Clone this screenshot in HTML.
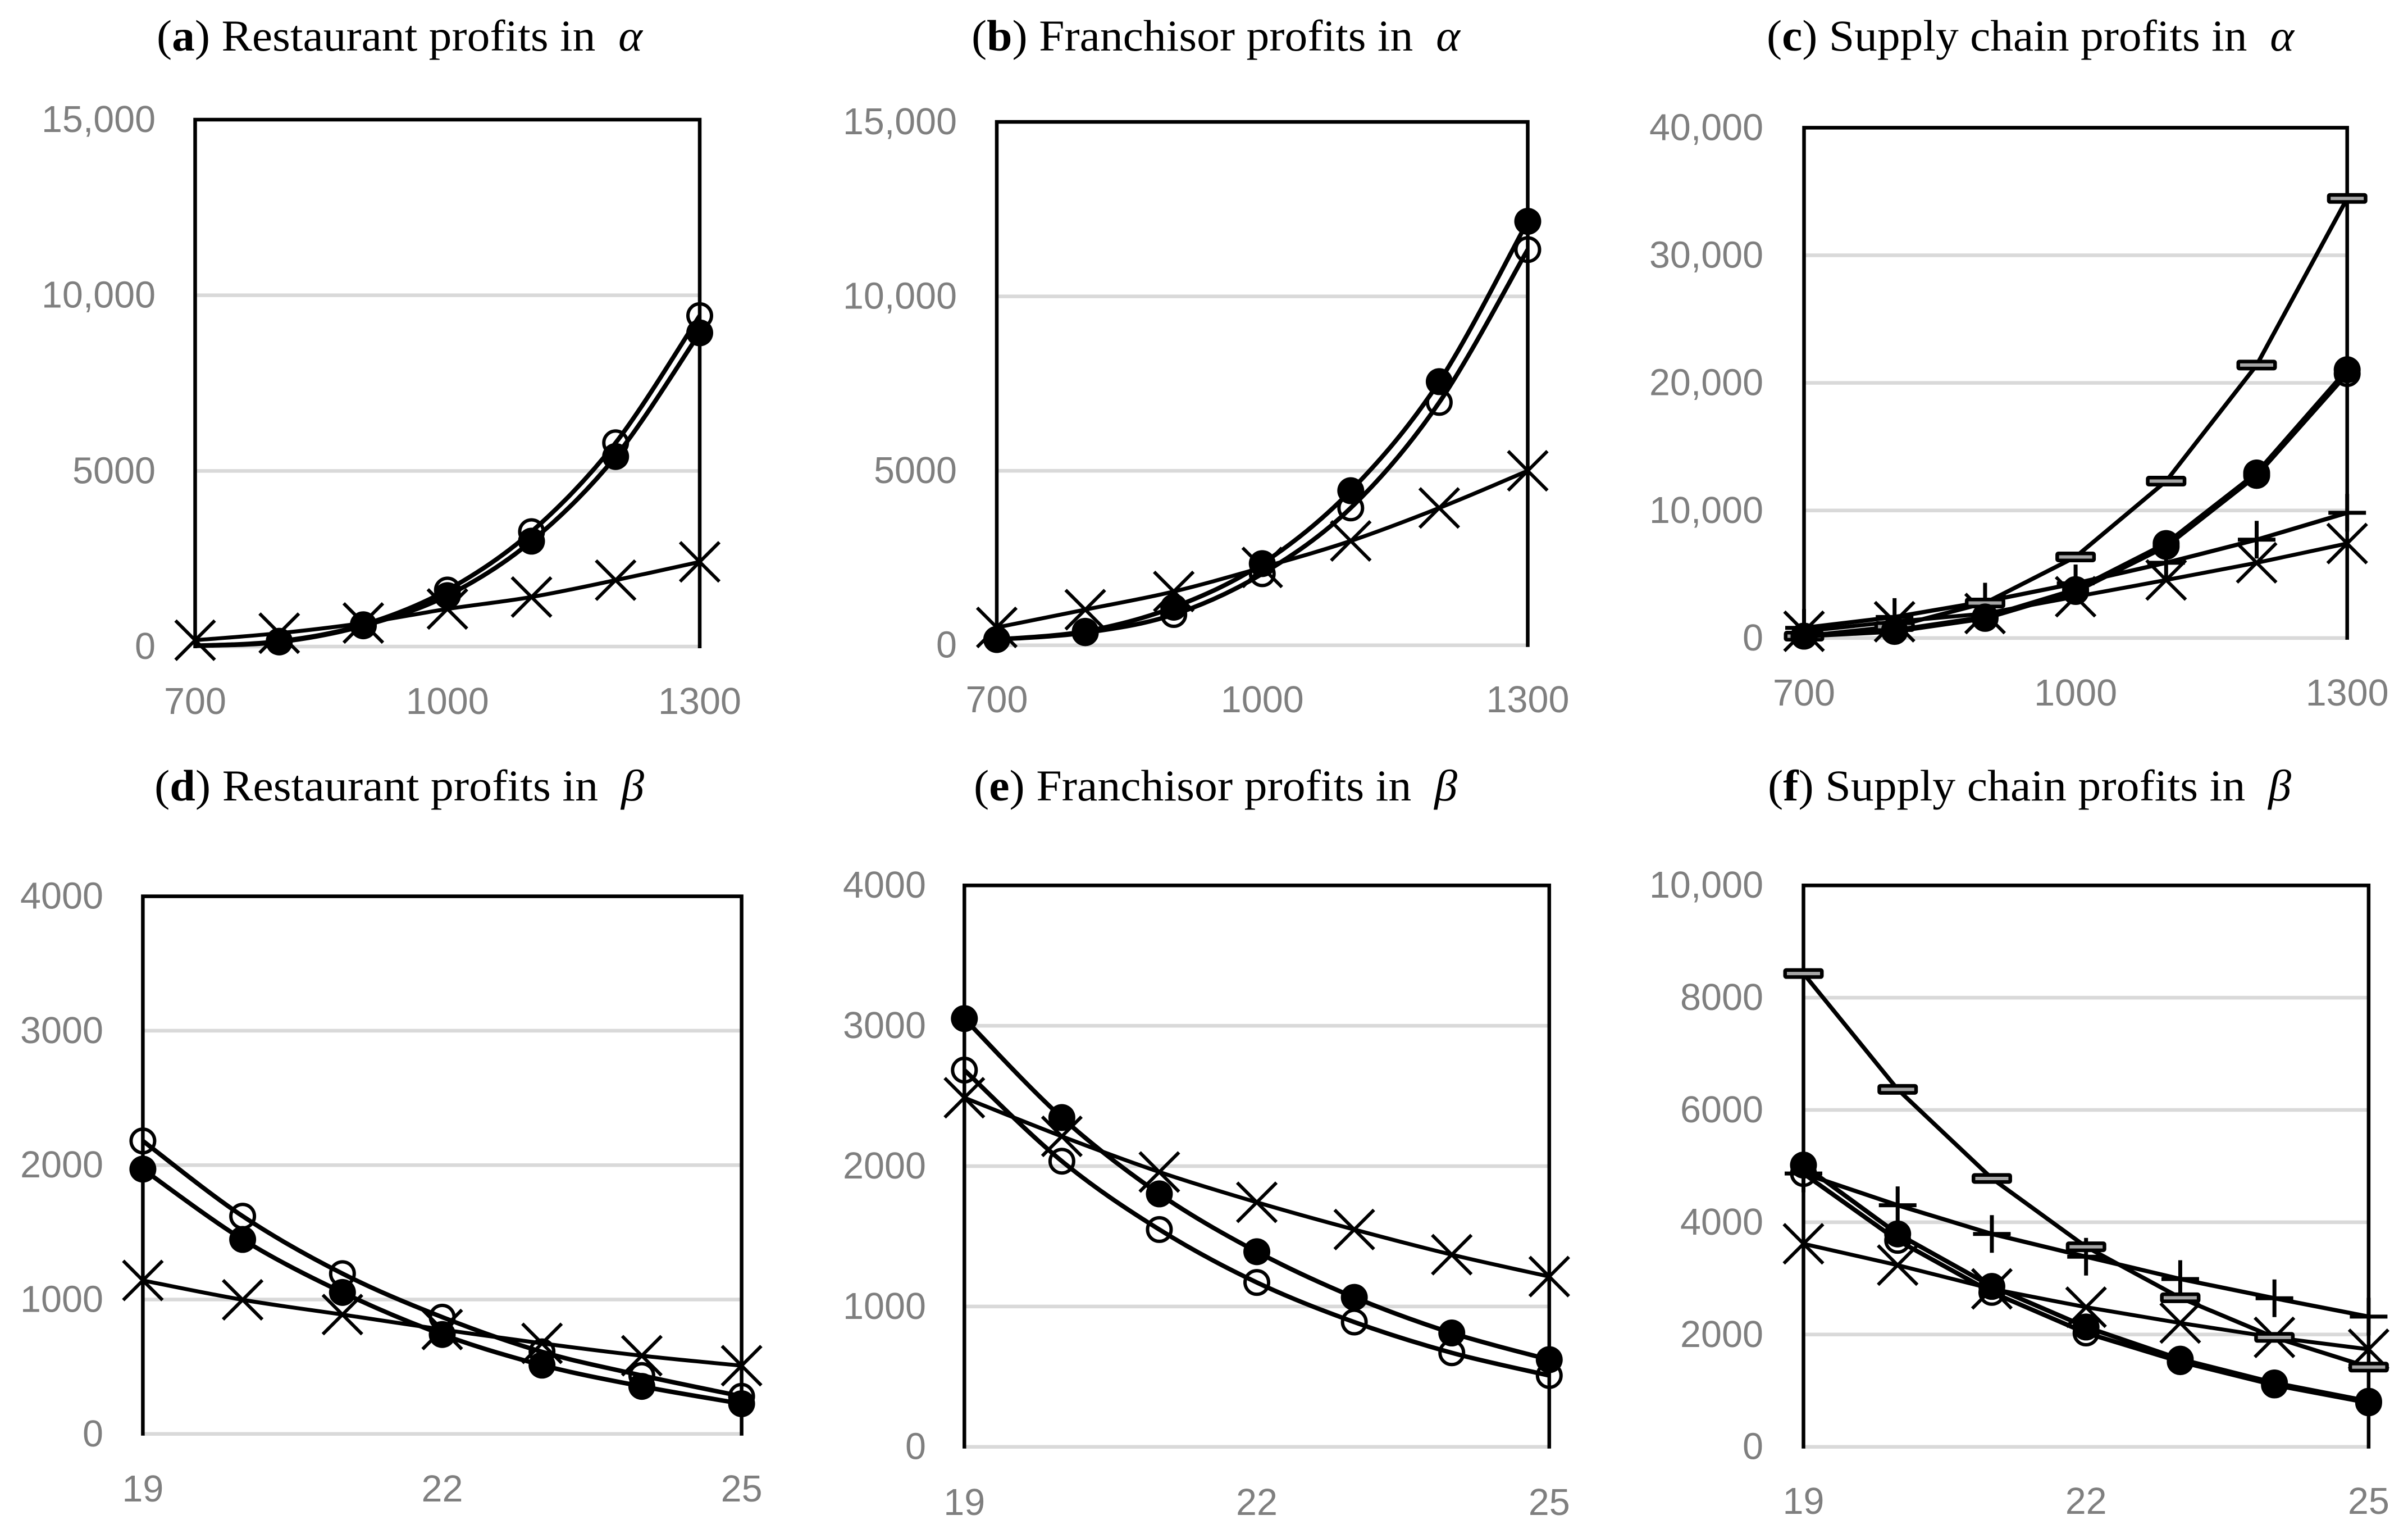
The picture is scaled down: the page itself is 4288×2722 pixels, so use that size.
<!DOCTYPE html>
<html lang="en">
<head>
<meta charset="utf-8">
<title>Profits in alpha and beta</title>
<style>
html,body{margin:0;padding:0;background:#fff;width:4288px;height:2722px;overflow:hidden}
svg{display:block}
.title{font-family:"Liberation Serif",serif;font-size:78px;fill:#000;white-space:pre}
.tick{font-family:"Liberation Sans",sans-serif;font-size:67px;fill:#7f7f7f}
</style>
</head>
<body>
<svg id="figure" xmlns="http://www.w3.org/2000/svg" width="4288" height="2722" viewBox="0 0 4288 2722">
<rect width="4288" height="2722" fill="#fff"/>
<text class="title" x="279" y="90" textLength="865" lengthAdjust="spacingAndGlyphs">(<tspan font-weight="bold">a</tspan>) Restaurant profits in  <tspan font-style="italic">α</tspan></text>
<text class="title" x="1730" y="90" textLength="870" lengthAdjust="spacingAndGlyphs">(<tspan font-weight="bold">b</tspan>) Franchisor profits in  <tspan font-style="italic">α</tspan></text>
<text class="title" x="3146" y="90" textLength="939" lengthAdjust="spacingAndGlyphs">(<tspan font-weight="bold">c</tspan>) Supply chain profits in  <tspan font-style="italic">α</tspan></text>
<text class="title" x="275" y="1425" textLength="872" lengthAdjust="spacingAndGlyphs">(<tspan font-weight="bold">d</tspan>) Restaurant profits in  <tspan font-style="italic">β</tspan></text>
<text class="title" x="1734" y="1425" textLength="861" lengthAdjust="spacingAndGlyphs">(<tspan font-weight="bold">e</tspan>) Franchisor profits in  <tspan font-style="italic">β</tspan></text>
<text class="title" x="3148" y="1425" textLength="932" lengthAdjust="spacingAndGlyphs">(<tspan font-weight="bold">f</tspan>) Supply chain profits in  <tspan font-style="italic">β</tspan></text>
</svg>
<script>
// ---- categories ----
const alphaCategories = [700, 800, 900, 1000, 1100, 1200, 1300];
const betaCategories = [19, 20, 21, 22, 23, 24, 25];
const alphaXTicks = [700, 1000, 1300];
const betaXTicks = [19, 22, 25];

// ---- y tick values and labels ----
const yTicks15k = [0, 5000, 10000, 15000];
const yTickLabels15k = ['0', '5000', '10,000', '15,000'];
const yTicks40k = [0, 10000, 20000, 30000, 40000];
const yTickLabels40k = ['0', '10,000', '20,000', '30,000', '40,000'];
const yTicks4k = [0, 1000, 2000, 3000, 4000];
const yTickLabels4k = ['0', '1000', '2000', '3000', '4000'];
const yTicks10k = [0, 2000, 4000, 6000, 8000, 10000];
const yTickLabels10k = ['0', '2000', '4000', '6000', '8000', '10,000'];

// ---- series values ----
const aCross = [180, 380, 670, 1070, 1410, 1890, 2410];
const aOpen = [20, 150, 620, 1610, 3270, 5800, 9420];
const aFilled = [20, 130, 590, 1450, 3000, 5410, 8930];

const bCross = [510, 1020, 1540, 2230, 2990, 3935, 5000];
const bOpen = [165, 360, 880, 2050, 3935, 6960, 11340];
const bFilled = [165, 400, 1090, 2340, 4430, 7555, 12150];

const cCross = [530, 1280, 1920, 3240, 4550, 5900, 7410];
const cPlus = [800, 1650, 2860, 4290, 5900, 7710, 9820];
const cBox = [150, 900, 2750, 6360, 12300, 21400, 34460];
const cOpen = [150, 520, 1540, 3650, 7185, 12750, 20730];
const cFilled = [150, 600, 1650, 3800, 7410, 12940, 21030];

const dCross = [1142, 998, 888, 777, 674, 582, 508];
const dOpen = [2180, 1620, 1193, 869, 611, 435, 280];
const dFilled = [1970, 1447, 1053, 740, 512, 354, 225];

const eCross = [2487, 2212, 1958, 1742, 1548, 1369, 1213];
const eOpen = [2684, 2035, 1548, 1171, 889, 670, 508];
const eFilled = [3051, 2346, 1802, 1390, 1065, 811, 621];

const fCross = [3616, 3236, 2813, 2487, 2205, 1949, 1737];
const fPlus = [4868, 4303, 3792, 3386, 2989, 2646, 2319];
const fBox = [8430, 6367, 4780, 3563, 2654, 1949, 1420];
const fOpen = [4868, 3677, 2751, 2028, 1517, 1102, 785];
const fFilled = [5018, 3792, 2857, 2134, 1561, 1138, 811];

// ---- panel wiring ----
const panels = [
  {id:'a', cats:alphaCategories, xTicks:alphaXTicks, yTicks:yTicks15k, yLabels:yTickLabels15k, smooth:true,
   box:{l:347.5,r:1246,t:213,b:1151}, yLabelRight:277, xLabelBase:1271, hideFirstCircle:true,
   series:[['cross',aCross],['open',aOpen],['filled',aFilled]]},
  {id:'b', cats:alphaCategories, xTicks:alphaXTicks, yTicks:yTicks15k, yLabels:yTickLabels15k, smooth:true,
   box:{l:1775,r:2720.5,t:217,b:1148.7}, yLabelRight:1704, xLabelBase:1268,
   series:[['cross',bCross],['open',bOpen],['filled',bFilled]]},
  {id:'c', cats:alphaCategories, xTicks:alphaXTicks, yTicks:yTicks40k, yLabels:yTickLabels40k, smooth:false,
   box:{l:3212.5,r:4179.7,t:227.4,b:1135.9}, yLabelRight:3140, xLabelBase:1256,
   series:[['cross',cCross],['plus',cPlus],['box',cBox],['open',cOpen],['filled',cFilled]]},
  {id:'d', cats:betaCategories, xTicks:betaXTicks, yTicks:yTicks4k, yLabels:yTickLabels4k, smooth:true,
   box:{l:254.4,r:1320.6,t:1595.6,b:2552.8}, yLabelRight:184, xLabelBase:2673,
   series:[['cross',dCross],['open',dOpen],['filled',dFilled]]},
  {id:'e', cats:betaCategories, xTicks:betaXTicks, yTicks:yTicks4k, yLabels:yTickLabels4k, smooth:true,
   box:{l:1717.3,r:2758.8,t:1576.2,b:2575.7}, yLabelRight:1649, xLabelBase:2697,
   series:[['cross',eCross],['open',eOpen],['filled',eFilled]]},
  {id:'f', cats:betaCategories, xTicks:betaXTicks, yTicks:yTicks10k, yLabels:yTickLabels10k, smooth:false,
   box:{l:3211.5,r:4217.9,t:1576.2,b:2575.7}, yLabelRight:3140, xLabelBase:2695,
   series:[['cross',fCross],['plus',fPlus],['box',fBox],['open',fOpen],['filled',fFilled]]}
];

const NS = 'http://www.w3.org/2000/svg';
const root = document.getElementById('figure');
const LINE_WIDTH = {cross:7, plus:7.5, box:7.5, open:8, filled:8};

function el(tag, attrs, parent) {
  const n = document.createElementNS(NS, tag);
  for (const k in attrs) n.setAttribute(k, attrs[k]);
  parent.appendChild(n);
  return n;
}

// Excel-style smoothed line through the points
function smoothPath(pts) {
  let d = 'M' + pts[0][0].toFixed(1) + ' ' + pts[0][1].toFixed(1);
  for (let i = 0; i < pts.length - 1; i++) {
    const p0 = pts[Math.max(i - 1, 0)], p1 = pts[i], p2 = pts[i + 1], p3 = pts[Math.min(i + 2, pts.length - 1)];
    const c1x = p1[0] + (p2[0] - p0[0]) / 6, c1y = p1[1] + (p2[1] - p0[1]) / 6;
    const c2x = p2[0] - (p3[0] - p1[0]) / 6, c2y = p2[1] - (p3[1] - p1[1]) / 6;
    d += 'C' + c1x.toFixed(1) + ' ' + c1y.toFixed(1) + ' ' + c2x.toFixed(1) + ' ' + c2y.toFixed(1) + ' ' + p2[0].toFixed(1) + ' ' + p2[1].toFixed(1);
  }
  return d;
}

function straightPath(pts) {
  return 'M' + pts.map(q => q[0].toFixed(1) + ' ' + q[1].toFixed(1)).join('L');
}

// advance width of a tick label in the chart's original narrow digit metrics
function labelWidth(text) {
  let w = 0;
  for (const ch of text) w += ch === ',' ? 18 : 37;
  return w;
}

function drawMarker(kind, x, y, parent) {
  const g = el('g', {}, parent);
  
  
  if (kind === 'cross') {
    el('path', {d:`M${x-35} ${y-35}L${x+35} ${y+35}M${x-35} ${y+35}L${x+35} ${y-35}`, stroke:'#000', 'stroke-width':6, fill:'none'}, g);
  } else if (kind === 'plus') {
    el('path', {d:`M${x-33.5} ${y}H${x+33.5}M${x} ${y-33.5}V${y+33.5}`, stroke:'#000', 'stroke-width':7, fill:'none'}, g);
  } else if (kind === 'box') {
    el('rect', {x:x-32.75, y:y-6.25, width:65.5, height:12.5, rx:2, fill:'#a6a6a6', stroke:'#000', 'stroke-width':6.5}, g);
  } else if (kind === 'open') {
    el('circle', {cx:x, cy:y, r:21, fill:'none', stroke:'#000', 'stroke-width':6}, g);
  } else {
    el('circle', {cx:x, cy:y, r:24, fill:'#000'}, g);
  }
}

panels.forEach(function (p) {
  const b = p.box;
  const xMin = p.cats[0], xMax = p.cats[p.cats.length - 1];
  const yMax = p.yTicks[p.yTicks.length - 1];
  const xScale = v => b.l + (v - xMin) / (xMax - xMin) * (b.r - b.l);
  const yScale = v => b.b - v / yMax * (b.b - b.t);

  const panel = el('g', {}, root);
  
  

  // gridlines and y tick labels
  p.yTicks.forEach(function (t, i) {
    const y = yScale(t);
    if (t !== yMax) {
      const grid = el('line', {x1:b.l, x2:b.r, y1:y, y2:y, stroke:'#d9d9d9', 'stroke-width':6.5}, panel);
      
      
    }
    const text = p.yLabels[i];
    const label = el('text', {class:'tick', x:p.yLabelRight, y:y + 22, 'text-anchor':'end', textLength:labelWidth(text), lengthAdjust:'spacingAndGlyphs'}, panel);
    label.textContent = text;
    
    
  });

  // x tick labels
  p.xTicks.forEach(function (t) {
    const text = String(t);
    const label = el('text', {class:'tick', x:xScale(t), y:p.xLabelBase, 'text-anchor':'middle', textLength:labelWidth(text), lengthAdjust:'spacingAndGlyphs'}, panel);
    label.textContent = text;
    
    
  });

  // plot frame: top, left, right
  const frame = el('path', {d:`M${b.l} ${b.b + 3}V${b.t}H${b.r}V${b.b + 3}`, fill:'none', stroke:'#000', 'stroke-width':6.5}, panel);
  
  

  // series
  p.series.forEach(function (s) {
    const kind = s[0], values = s[1];
    const pts = values.map((v, i) => [xScale(p.cats[i]), yScale(v)]);
    const g = el('g', {}, panel);
    
    
    const line = el('path', {d:p.smooth ? smoothPath(pts) : straightPath(pts), fill:'none', stroke:'#000', 'stroke-width':LINE_WIDTH[kind], 'stroke-linejoin':'round'}, g);
    
    
    pts.forEach(function (pt, i) {
      if (i === 0 && p.hideFirstCircle && (kind === 'open' || kind === 'filled')) return;
      drawMarker(kind, pt[0], pt[1], g);
    });
  });
});
</script>
</body>
</html>
